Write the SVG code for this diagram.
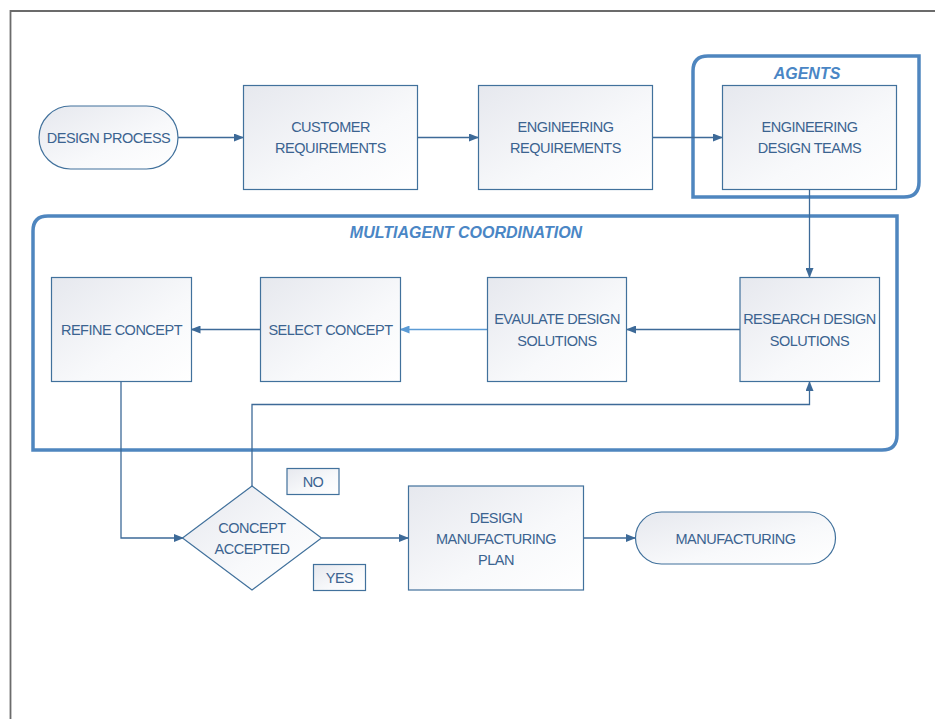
<svg xmlns="http://www.w3.org/2000/svg" width="938" height="719" viewBox="0 0 938 719">
<defs>
<linearGradient id="g" x1="0" y1="0" x2="1" y2="1">
<stop offset="0" stop-color="#e6e8ee"/>
<stop offset="0.6" stop-color="#f8f9fb"/>
<stop offset="1" stop-color="#ffffff"/>
</linearGradient>
<marker id="a" markerWidth="10" markerHeight="8" refX="9" refY="4" orient="auto" markerUnits="userSpaceOnUse">
<path d="M0,0 L10,4 L0,8 Z" fill="#3d6a98"/>
</marker>
<marker id="al" markerWidth="10" markerHeight="8" refX="9" refY="4" orient="auto" markerUnits="userSpaceOnUse">
<path d="M0,0 L10,4 L0,8 Z" fill="#5b9bd5"/>
</marker>
</defs>
<style>
.n{fill:url(#g);stroke:#41719c;stroke-width:1.2}
.t{font-family:"Liberation Sans",Arial,sans-serif;font-size:14.5px;letter-spacing:-0.5px;fill:#3b6390;text-anchor:middle}
.f{fill:none;stroke:#4f86bf;stroke-width:3.5}
.ft{font-family:"Liberation Sans",Arial,sans-serif;font-size:16px;font-weight:bold;font-style:italic;fill:#4a86c5;text-anchor:middle}
.c{fill:none;stroke:#3d6a98;stroke-width:1.3}
</style>
<rect width="938" height="719" fill="#ffffff"/>
<path d="M10.5,719 V11 H935" fill="none" stroke="#6b6b6b" stroke-width="1.8"/>

<g id="frame-agents">
<path class="f" d="M708,56 H919 V182 Q919,197 904,197 H693 V71 Q693,56 708,56 Z"/>
<text class="ft" x="807" y="79">AGENTS</text>
</g>
<g id="frame-multiagent">
<path class="f" d="M48,216 H897 V435 Q897,450 882,450 H33 V231 Q33,216 48,216 Z"/>
<text class="ft" x="466" y="238">MULTIAGENT COORDINATION</text>
</g>

<g id="connectors">
<path class="c" d="M178,137.5 H243" marker-end="url(#a)"/>
<path class="c" d="M417.5,137.5 H478" marker-end="url(#a)"/>
<path class="c" d="M652.5,137.5 H722" marker-end="url(#a)"/>
<path class="c" d="M809.5,189.5 V277" marker-end="url(#a)"/>
<path class="c" d="M740,329.5 H627" marker-end="url(#a)"/>
<path d="M487.5,329.5 H400.5" fill="none" stroke="#5b9bd5" stroke-width="1.3" marker-end="url(#al)"/>
<path class="c" d="M260.5,329.5 H191.5" marker-end="url(#a)"/>
<path class="c" d="M121,381.5 V538 H183" marker-end="url(#a)"/>
<path class="c" d="M252,486 V404.5 H809.5 V382" marker-end="url(#a)"/>
<path class="c" d="M321.5,538 H408" marker-end="url(#a)"/>
<path class="c" d="M583.5,538 H635" marker-end="url(#a)"/>
</g>

<g id="design-process">
<rect class="n" x="39" y="106" width="139" height="63" rx="31.5"/>
<text class="t" x="108.5" y="143">DESIGN PROCESS</text>
</g>
<g id="customer-requirements">
<rect class="n" x="243.5" y="85.5" width="174" height="104"/>
<text class="t" x="330.5" y="132">CUSTOMER</text>
<text class="t" x="330.5" y="153">REQUIREMENTS</text>
</g>
<g id="engineering-requirements">
<rect class="n" x="478.5" y="85.5" width="174" height="104"/>
<text class="t" x="565.5" y="132">ENGINEERING</text>
<text class="t" x="565.5" y="153">REQUIREMENTS</text>
</g>
<g id="engineering-design-teams">
<rect class="n" x="722.5" y="85.5" width="174" height="104"/>
<text class="t" x="809.5" y="132">ENGINEERING</text>
<text class="t" x="809.5" y="153">DESIGN TEAMS</text>
</g>
<g id="refine-concept">
<rect class="n" x="51.5" y="277.5" width="140" height="104"/>
<text class="t" x="121.5" y="335">REFINE CONCEPT</text>
</g>
<g id="select-concept">
<rect class="n" x="260.5" y="277.5" width="140" height="104"/>
<text class="t" x="330.5" y="335">SELECT CONCEPT</text>
</g>
<g id="evaluate-design-solutions">
<rect class="n" x="487.5" y="277.5" width="139" height="104"/>
<text class="t" x="557" y="324">EVAULATE DESIGN</text>
<text class="t" x="557" y="345.5">SOLUTIONS</text>
</g>
<g id="research-design-solutions">
<rect class="n" x="740" y="277.5" width="139.5" height="104"/>
<text class="t" x="809.5" y="324">RESEARCH DESIGN</text>
<text class="t" x="809.5" y="345.5">SOLUTIONS</text>
</g>
<g id="concept-accepted">
<path class="n" d="M252,486 L321.5,538 L252,590 L182.5,538 Z"/>
<text class="t" x="252" y="533">CONCEPT</text>
<text class="t" x="252" y="554">ACCEPTED</text>
</g>
<g id="label-no">
<rect class="n" x="287" y="468.5" width="52" height="26"/>
<text class="t" x="313" y="486.5">NO</text>
</g>
<g id="label-yes">
<rect class="n" x="313.5" y="564.5" width="52" height="26"/>
<text class="t" x="339.5" y="582.5">YES</text>
</g>
<g id="design-manufacturing-plan">
<rect class="n" x="408.5" y="486" width="175" height="104"/>
<text class="t" x="496" y="522.5">DESIGN</text>
<text class="t" x="496" y="543.5">MANUFACTURING</text>
<text class="t" x="496" y="564.5">PLAN</text>
</g>
<g id="manufacturing">
<rect class="n" x="635.5" y="512" width="200" height="52" rx="26"/>
<text class="t" x="735.5" y="544">MANUFACTURING</text>
</g>
</svg>
